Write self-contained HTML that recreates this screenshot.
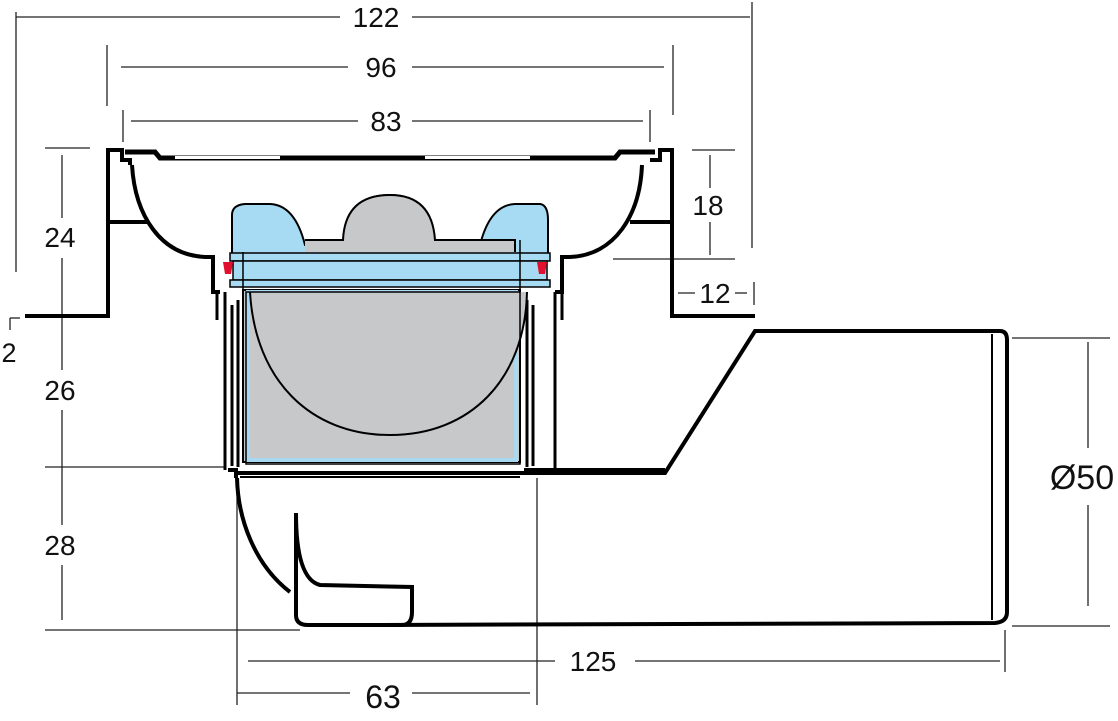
<!DOCTYPE html>
<html><head><meta charset="utf-8"><style>
html,body{margin:0;padding:0;background:#fff;}
svg{display:block}
text{font-family:"Liberation Sans",sans-serif;fill:#111;}
</style></head><body>
<svg width="1118" height="721" viewBox="0 0 1118 721" xmlns="http://www.w3.org/2000/svg">
<g stroke="#222" stroke-width="1.3" fill="none">
<line x1="16" y1="17" x2="340" y2="17"/><line x1="412" y1="17" x2="750" y2="17"/>
<line x1="16" y1="12" x2="16" y2="272"/><line x1="752" y1="2" x2="752" y2="248"/>
<line x1="121" y1="67" x2="348" y2="67"/><line x1="412" y1="67" x2="664" y2="67"/>
<line x1="107" y1="45" x2="107" y2="106"/><line x1="673" y1="45" x2="673" y2="115"/>
<line x1="131" y1="121" x2="358" y2="121"/><line x1="412" y1="121" x2="643" y2="121"/>
<line x1="123" y1="110" x2="123" y2="142"/><line x1="650" y1="110" x2="650" y2="142"/>
<line x1="45" y1="148" x2="90" y2="148"/>
<line x1="62" y1="155" x2="62" y2="218"/><line x1="62" y1="258" x2="62" y2="370"/>
<line x1="62" y1="410" x2="62" y2="525"/><line x1="62" y1="565" x2="62" y2="620"/>
<line x1="45" y1="467" x2="225" y2="467"/><line x1="45" y1="630" x2="300" y2="630"/>
<line x1="10" y1="318" x2="20" y2="318"/><line x1="10" y1="318" x2="10" y2="330"/>
<line x1="692" y1="150" x2="735" y2="150"/><line x1="613" y1="259" x2="735" y2="259"/>
<line x1="710" y1="155" x2="710" y2="188"/><line x1="710" y1="222" x2="710" y2="255"/>
<line x1="678" y1="293" x2="695" y2="293"/><line x1="735" y1="293" x2="747" y2="293"/>
<line x1="754" y1="282" x2="754" y2="305"/>
<line x1="1012" y1="338" x2="1110" y2="338"/><line x1="1012" y1="626" x2="1110" y2="626"/>
<line x1="1088" y1="342" x2="1088" y2="448"/><line x1="1088" y1="505" x2="1088" y2="606"/>
<line x1="237" y1="478" x2="237" y2="705"/><line x1="537" y1="478" x2="537" y2="705"/>
<line x1="1005" y1="630" x2="1005" y2="672"/>
<line x1="248" y1="661" x2="555" y2="661"/><line x1="635" y1="661" x2="1000" y2="661"/>
<line x1="237" y1="693" x2="350" y2="693"/><line x1="412" y1="693" x2="530" y2="693"/>
</g>
<g stroke="#000" stroke-width="4" fill="none" stroke-linejoin="miter">
<path d="M25 316 H108 V150 H122 V160 H130 V165"/>
<path d="M108 222 H147"/>
<path d="M755 316 H672 V150 H660 V160 H650"/>
<path d="M672 222 H630"/>
<path d="M132 165 C135 215 160 255 205 257 H213 V292 H220"/>
<path d="M642 165 C640 215 615 255 570 257 H562 V292 H555"/>
<path d="M125 152 H155 L160 158 H615 L620 152 H655" stroke-width="5"/>
</g>
<rect x="175" y="156" width="105" height="3" fill="#fff"/>
<rect x="425" y="156" width="105" height="3" fill="#fff"/>
<rect x="243" y="290" width="277" height="172" fill="#c7c8ca" stroke="#000" stroke-width="2"/>
<rect x="248" y="292" width="268" height="168" fill="none" stroke="#a7daf2" stroke-width="4"/>
<path d="M250 292 C255 380 310 435 390 435 C470 435 525 380 527 292" fill="#c7c8ca" stroke="#000" stroke-width="2"/>
<path d="M232 256 V215 Q232 205 245 204 H270 Q295 205 305 245 H343 Q345 195 390 195 Q432 195 435 245 H480 Q490 205 515 204 H540 Q548 205 548 220 V256 Z" fill="#a6dbf3" stroke="#000" stroke-width="2"/>
<rect x="305" y="240" width="210" height="12" fill="#c7c8ca"/>
<path d="M305 240 H343 Q345 195 390 195 Q432 195 435 240 H515 V252" fill="#c7c8ca" stroke="#000" stroke-width="2"/>
<rect x="230" y="253" width="320" height="8" fill="#a6dbf3" stroke="#000" stroke-width="1.5"/>
<rect x="233" y="261" width="314" height="19" fill="#a6dbf3" stroke="#000" stroke-width="1.5"/>
<rect x="230" y="280" width="320" height="7" fill="#a6dbf3" stroke="#000" stroke-width="1.5"/>
<line x1="243" y1="252" x2="243" y2="292" stroke="#000" stroke-width="1.5"/>
<line x1="520" y1="240" x2="520" y2="292" stroke="#000" stroke-width="1.5"/>
<path d="M223 262 h10 l-2 12 h-6 z" fill="#e0102e"/>
<path d="M537 262 h10 l-2 12 h-6 z" fill="#e0102e"/>
<g stroke="#000" stroke-width="3" fill="none">
<path d="M217 292 V320 M562 292 V320"/>
<path d="M225 292 V470 M555 292 V470"/>
<path d="M238 300 V467 M527 300 V467"/>
<path d="M232 305 V466 M533 305 V466"/>
<rect x="246" y="292" width="274" height="172" stroke-width="1.5"/>
</g>
<g stroke="#000" stroke-width="4" fill="none">
<path d="M228 470 H236 V478 M236 473 H665 L755 331 H1000 Q1007 331 1007 340 V612 Q1007 622 995 623 L370 625"/>
<path d="M524 470 H665" />
<line x1="240" y1="477" x2="520" y2="477" stroke-width="2"/>
<line x1="992" y1="334" x2="992" y2="620" stroke-width="2"/>
<path d="M237 478 C238 520 255 565 290 592"/>
<path d="M296 513 V615 Q296 625 308 625 H402 Q412 625 412 612 V587 L320 585 C300 580 296 545 296 513 Z" stroke-width="4"/>
</g>
<g font-size="28">
<text x="376" y="27" text-anchor="middle">122</text>
<text x="381" y="77" text-anchor="middle">96</text>
<text x="386" y="131" text-anchor="middle">83</text>
<text x="60" y="247" text-anchor="middle">24</text>
<text x="60" y="400" text-anchor="middle">26</text>
<text x="60" y="555" text-anchor="middle">28</text>
<text x="9" y="362" text-anchor="middle" font-size="27">2</text>
<text x="708" y="215" text-anchor="middle">18</text>
<text x="715" y="303" text-anchor="middle">12</text>
<text x="593" y="671" text-anchor="middle">125</text>
<text x="383" y="708" text-anchor="middle" font-size="32">63</text>
<text x="1082" y="489" text-anchor="middle" font-size="34">Ø50</text>
</g>
</svg>
</body></html>
